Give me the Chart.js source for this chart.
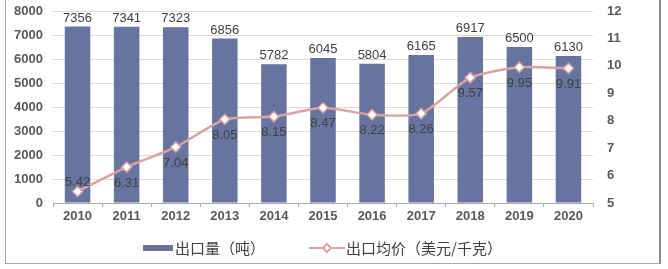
<!DOCTYPE html>
<html>
<head>
<meta charset="utf-8">
<script src="https://cdn.jsdelivr.net/npm/chart.js@4/dist/chart.umd.min.js"></script>
<style>
  html, body { margin: 0; padding: 0; background: #fff; }
  #wrap { position: relative; width: 668px; height: 269px; }
  #frame { position: absolute; left: 5px; top: -2px; width: 656px; height: 266px;
           border: 1px solid #a6a6a6; border-right: 2px solid #8c8c8c; box-sizing: border-box; }
  canvas { position: absolute; left: 0; top: 0; }
</style>
</head>
<body>
<div id="wrap">
  <div id="frame"></div>
  <canvas id="chart" width="668" height="269"></canvas>
</div>
<script>
const years = ["2010","2011","2012","2013","2014","2015","2016","2017","2018","2019","2020"];
const volume = [7356, 7341, 7323, 6856, 5782, 6045, 5804, 6165, 6917, 6500, 6130];
const price = [5.42, 6.31, 7.04, 8.05, 8.15, 8.47, 8.22, 8.26, 9.57, 9.95, 9.91];
const volumeLabel = "出口量（吨）";
const priceLabel = "出口均价（美元/千克）";

const barColor = "#66749f";
const lineColor = "#d9a3a3";
const numFont = "'Liberation Sans', Arial, sans-serif";
const cjkFont = "'Noto Sans CJK SC', sans-serif";

// value labels above bars / under points
const valueLabels = {
    id: "valueLabels",
    afterDatasetsDraw(chart) {
        const ctx = chart.ctx;
        ctx.save();
        ctx.font = "13px " + numFont;
        ctx.fillStyle = "#404040";
        ctx.textAlign = "center";
        chart.getDatasetMeta(0).data.forEach((bar, i) => {
            ctx.textBaseline = "bottom";
            ctx.fillText(volume[i], bar.x, bar.y - 2);
        });
        chart.getDatasetMeta(1).data.forEach((pt, i) => {
            let y = pt.y + 16;
            if (y + 8 > chart.chartArea.bottom) y = pt.y - 9;
            ctx.textBaseline = "middle";
            ctx.fillText(price[i].toFixed(2), pt.x, y);
        });
        ctx.restore();
    }
};

// legend drawn at the bottom
const bottomLegend = {
    id: "bottomLegend",
    afterDraw(chart) {
        const ctx = chart.ctx;
        const y = 248;
        ctx.save();
        ctx.font = "15px " + cjkFont;
        ctx.textBaseline = "middle";
        // bar entry
        ctx.fillStyle = barColor;
        ctx.fillRect(143, y - 3, 30, 6);
        ctx.fillStyle = "#404040";
        ctx.fillText(volumeLabel, 175, y);
        // line entry
        ctx.strokeStyle = lineColor;
        ctx.lineWidth = 2;
        ctx.beginPath();
        ctx.moveTo(309, y);
        ctx.lineTo(345, y);
        ctx.stroke();
        ctx.fillStyle = "#fff";
        ctx.beginPath();
        ctx.moveTo(327, y - 4);
        ctx.lineTo(331, y);
        ctx.lineTo(327, y + 4);
        ctx.lineTo(323, y);
        ctx.closePath();
        ctx.fill();
        ctx.stroke();
        ctx.fillStyle = "#404040";
        ctx.fillText(priceLabel, 346, y);
        ctx.restore();
    }
};

const tickFont = { family: numFont, size: 13, weight: "bold" };

function fixVertical(width) {
    return s => { s.width = width; s.paddingTop = 0; s.paddingBottom = 0; };
}

new Chart(document.getElementById("chart"), {
    data: {
        labels: years,
        datasets: [
            {
                type: "bar",
                label: volumeLabel,
                data: volume,
                backgroundColor: barColor,
                yAxisID: "y",
                barPercentage: 0.52,
                categoryPercentage: 1,
                order: 2
            },
            {
                type: "line",
                label: priceLabel,
                data: price,
                borderColor: lineColor,
                borderWidth: 2.5,
                pointStyle: "rectRot",
                pointRadius: 5,
                pointBackgroundColor: "#fff",
                pointBorderColor: lineColor,
                pointBorderWidth: 1.5,
                tension: 0.2,
                yAxisID: "y1",
                order: 1
            }
        ]
    },
    options: {
        responsive: false,
        animation: false,
        layout: { padding: { left: 8, right: 10, top: 11, bottom: 40 } },
        plugins: { legend: { display: false }, tooltip: { enabled: false } },
        scales: {
            x: {
                grid: { drawOnChartArea: false, tickLength: 4, color: "#a6a6a6" },
                border: { color: "#a6a6a6" },
                ticks: { font: tickFont, color: "#595959", padding: 2 },
                afterFit(s) { s.height = 26; s.paddingLeft = 0; s.paddingRight = 0; }
            },
            y: {
                position: "left",
                min: 0, max: 8000,
                ticks: { stepSize: 1000, font: tickFont, color: "#595959", padding: 10,
                         callback: v => String(v) },
                grid: { color: "#d9d9d9", drawTicks: false },
                border: { display: false },
                afterFit: fixVertical(45)
            },
            y1: {
                position: "right",
                min: 5, max: 12,
                ticks: { stepSize: 1, font: tickFont, color: "#595959", padding: 14 },
                grid: { drawOnChartArea: false, drawTicks: false },
                border: { display: false },
                afterFit: fixVertical(65)
            }
        }
    },
    plugins: [valueLabels, bottomLegend]
});
</script>
</body>
</html>
